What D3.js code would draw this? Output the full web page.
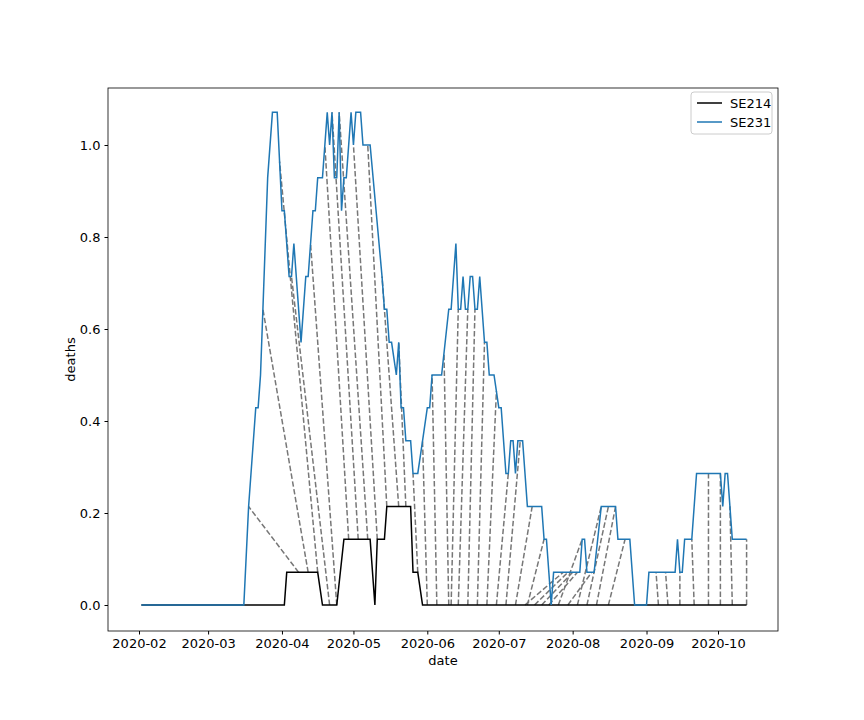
<!DOCTYPE html>
<html><head><meta charset="utf-8">
<script src="https://cdn.jsdelivr.net/npm/d3@7"></script>
<style>body{margin:0;background:#fff}svg{font-family:"DejaVu Sans",sans-serif}</style>
</head><body>
<script>
// days counted from 2020-02-01
const se231Days = [1,44,46,49,50,51,52,54,56,58,60,61,63,64,65,68,70,71,73,74,75,77,79,80,81,82,83,84,85,86,87,89,90,91,93,94,97,102,103,104,105,106,108,109,110,111,112,114,115,117,119,121,122,123,127,130,131,133,134,135,136,137,138,139,140,141,142,143,145,146,147,149,151,152,154,155,156,157,158,159,161,163,169,170,171,173,174,185,186,187,188,191,194,200,201,206,208,213,214,225,226,227,228,229,232,234,244,245,246,247,249,255];
const se231Vals = [0,0,.214,.429,.429,.5,.643,.929,1.071,1.071,.857,.857,.714,.714,.786,.571,.714,.714,.857,.857,.929,.929,1.071,1.0,1.071,.929,.929,1.071,.857,.929,.929,1.071,1.0,1.071,1.071,1.0,1.0,.714,.643,.643,.571,.571,.5,.571,.429,.429,.357,.357,.286,.286,.357,.429,.429,.5,.5,.643,.643,.786,.643,.643,.714,.643,.643,.714,.714,.643,.643,.714,.571,.571,.5,.5,.429,.429,.286,.286,.357,.357,.286,.357,.357,.214,.214,.143,.143,0,.071,.071,.143,.143,.071,.071,.214,.214,.143,.143,0,0,.071,.071,.143,.071,.071,.143,.143,.286,.286,.214,.286,.286,.143,.143];
const se214Days = [1,61,62,75,77,83,86,97,99,100,103,104,114,115,117,119,255];
const se214Vals = [0,0,.071,.071,0,0,.143,.143,0,.143,.143,.214,.214,.071,.071,0,0];
// alignment pairs [SE214 day, SE231 day]
const pairs214 = [67,71,75,80,83,88,92,96,100,104,109,112,117,121,125,130,131,134,138,142,146,150,154,158,163,162,166,169,172,176,180,184,188,192,197,213,218,222,227,233,239,244,249,255];
const pairs231 = [46,52,59,64,72,78,81,84,90,96,102,109,115,119,123,128,134,138,141,145,150,155,160,165,170,178,180,182,184,186,190,194,197,200,204,213,217,221,227,232,239,244,248,255];
const yTicks = [0,0.2,0.4,0.6,0.8,1.0];

const base = new Date(2020,1,1);
const toDate = d => d3.timeDay.offset(base, d);
const svg = d3.select("body").append("svg").attr("width",864).attr("height",720);
const L=108,R=778,T=88,B=631;
const x = d3.scaleTime().domain([new Date(2020,1,1), new Date(2020,9,1)]).range([139,718]);
const y = d3.scaleLinear().domain([0,1]).range([605,145]);

const s231 = se231Days.map((d,i)=>({d, v:se231Vals[i]}));
const s214 = se214Days.map((d,i)=>({d, v:se214Vals[i]}));
const valAt = (s, d) => {
  for (let i=1;i<s.length;i++) if (d<=s[i].d) {
    const a=s[i-1], b=s[i]; return a.v + (b.v-a.v)*(d-a.d)/(b.d-a.d);
  }
  return s[s.length-1].v;
};

pairs214.forEach((d,i)=>{
  const e = pairs231[i];
  svg.append("line").attr("x1",x(toDate(d))).attr("y1",y(valAt(s214,d)))
    .attr("x2",x(toDate(e))).attr("y2",y(valAt(s231,e)))
    .attr("stroke","#777").attr("stroke-width",1.5).attr("stroke-dasharray","5.5,2.4");
});

const line = d3.line().x(p=>x(toDate(p.d))).y(p=>y(p.v));
svg.append("path").datum(s214).attr("d",line).attr("fill","none").attr("stroke","#000").attr("stroke-width",1.5);
svg.append("path").datum(s231).attr("d",line).attr("fill","none").attr("stroke","#1f77b4").attr("stroke-width",1.5);

svg.append("rect").attr("x",L).attr("y",T).attr("width",R-L).attr("height",B-T).attr("fill","none").attr("stroke","#000").attr("stroke-width",0.8);
const xa = svg.append("g").attr("transform",`translate(0,${B})`)
  .call(d3.axisBottom(x).ticks(d3.timeMonth.every(1)).tickFormat(d3.timeFormat("%Y-%m")).tickSize(3.5).tickPadding(4));
const ya = svg.append("g").attr("transform",`translate(${L},0)`)
  .call(d3.axisLeft(y).tickValues(yTicks).tickFormat(d3.format(".1f")).tickSize(3.5).tickPadding(4));
[xa,ya].forEach(a=>{a.select(".domain").remove();a.selectAll("text").attr("font-size",13).attr("fill","#000").attr("font-family","DejaVu Sans");});
svg.append("text").attr("x",(L+R)/2).attr("y",665).attr("text-anchor","middle").attr("font-size",13).text("date");
svg.append("text").attr("transform",`translate(75,${(T+B)/2}) rotate(-90)`).attr("text-anchor","middle").attr("font-size",13).text("deaths");

const lg = svg.append("g");
lg.append("rect").attr("x",691).attr("y",92).attr("width",81).attr("height",42).attr("rx",3).attr("fill","#fff").attr("stroke","#ccc");
[["SE214","#000"],["SE231","#1f77b4"]].forEach((k,i)=>{
  const yy=103+i*19;
  lg.append("line").attr("x1",697).attr("x2",722).attr("y1",yy).attr("y2",yy).attr("stroke",k[1]).attr("stroke-width",1.5);
  lg.append("text").attr("x",730).attr("y",yy+4.5).attr("font-size",13).text(k[0]);
});
</script>
</body></html>
